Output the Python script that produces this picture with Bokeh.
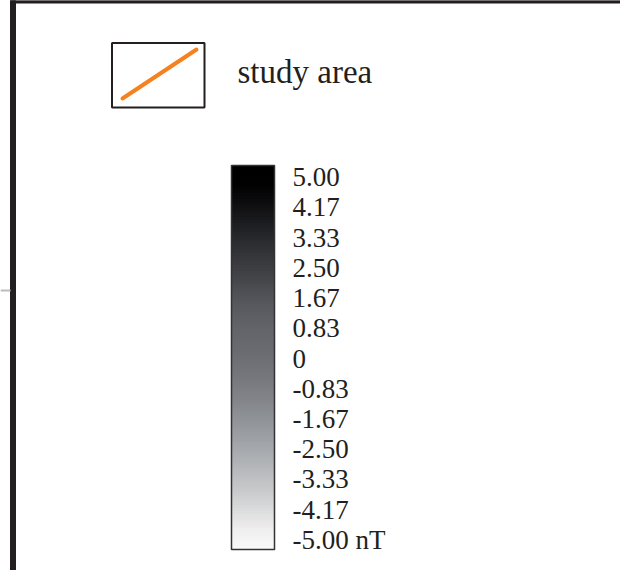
import numpy as np
from bokeh.plotting import figure
from bokeh.models import Range1d
from bokeh.core.properties import value
from bokeh.embed import file_html
from bokeh.resources import INLINE

# ---- data ----
legend_label = "study area"
tick_values = [5.00, 4.17, 3.33, 2.50, 1.67, 0.83, 0.0, -0.83, -1.67, -2.50, -3.33, -4.17, -5.00]
tick_labels = ["5.00", "4.17", "3.33", "2.50", "1.67", "0.83", "0",
               "-0.83", "-1.67", "-2.50", "-3.33", "-4.17", "-5.00 nT"]
# colour ramp anchors, top (5.00) to bottom (-5.00)
ramp_anchors = ["#000000", "#010102", "#0e0e10", "#1c1d20", "#2b2c30", "#393a3e",
                "#46474b", "#54555a", "#5f6065", "#66676c", "#6d6e73", "#75777c",
                "#808287", "#8c8f94", "#9a9da2", "#a9acb0", "#b9bbbe", "#cacbcd",
                "#dcdddd", "#efefef", "#fafafa"]

TEXT = "#231f20"
FONT = value("Liberation Serif")

W, H = 620, 570
p = figure(width=W, height=H, x_range=Range1d(0, W), y_range=Range1d(H, 0),
           output_backend="svg", toolbar_location=None, min_border=0,
           x_axis_type=None, y_axis_type=None, outline_line_color=None)

# frame lines
p.quad(left=10, right=15, top=0, bottom=H, color=TEXT)
p.quad(left=10, right=W, top=0, bottom=2.5, color=TEXT)
p.segment(x0=0, y0=290, x1=10, y1=290, line_color="#bbbbbb", line_width=2)

# legend item
p.quad(left=111.5, right=204, top=42.5, bottom=107, fill_color="white",
       line_color=TEXT, line_width=2)
p.line([122, 196], [98, 49], line_color="#f5821f", line_width=4, line_cap="round")
p.text(x=[237], y=[71], text=[legend_label], text_font=FONT, text_font_size="33px",
       text_baseline="middle", text_align="left", text_color=TEXT)

# colour bar (smooth ramp through the anchor colours)
def hex_to_rgb(c):
    return np.array([int(c[i:i + 2], 16) for i in (1, 3, 5)], dtype=float)

anchor_rgb = np.array([hex_to_rgb(c) for c in ramp_anchors])
n_bands = 128
pos = np.linspace(0, 1, len(ramp_anchors))
t = (np.arange(n_bands) + 0.5) / n_bands
band_colors = []
for ti in t:
    rgb = [np.interp(ti, pos, anchor_rgb[:, k]) for k in range(3)]
    band_colors.append("#%02x%02x%02x" % tuple(int(round(v)) for v in rgb))

cb_left, cb_right, cb_top, cb_bottom = 231, 274, 165, 549
h = (cb_bottom - cb_top) / n_bands
tops = [cb_top + i * h for i in range(n_bands)]
bottoms = [tp + h + 0.6 for tp in tops]
bottoms[-1] = cb_bottom
p.quad(left=cb_left, right=cb_right, top=tops, bottom=bottoms,
       fill_color=band_colors, line_color=None)
p.quad(left=cb_left, right=cb_right, top=cb_top, bottom=cb_bottom, fill_color=None,
       line_color="#333333", line_width=1.5)

# tick labels
vmax = max(tick_values)
vmin = min(tick_values)
y_top, y_bot = 176.5, 539.5
ys = [y_top + (vmax - v) / (vmax - vmin) * (y_bot - y_top) for v in tick_values]
p.text(x=[292] * len(ys), y=ys, text=tick_labels, text_font=FONT, text_font_size="27px",
       text_baseline="middle", text_align="left", text_color=TEXT)

open("out.html", "w").write(file_html(p, INLINE))
